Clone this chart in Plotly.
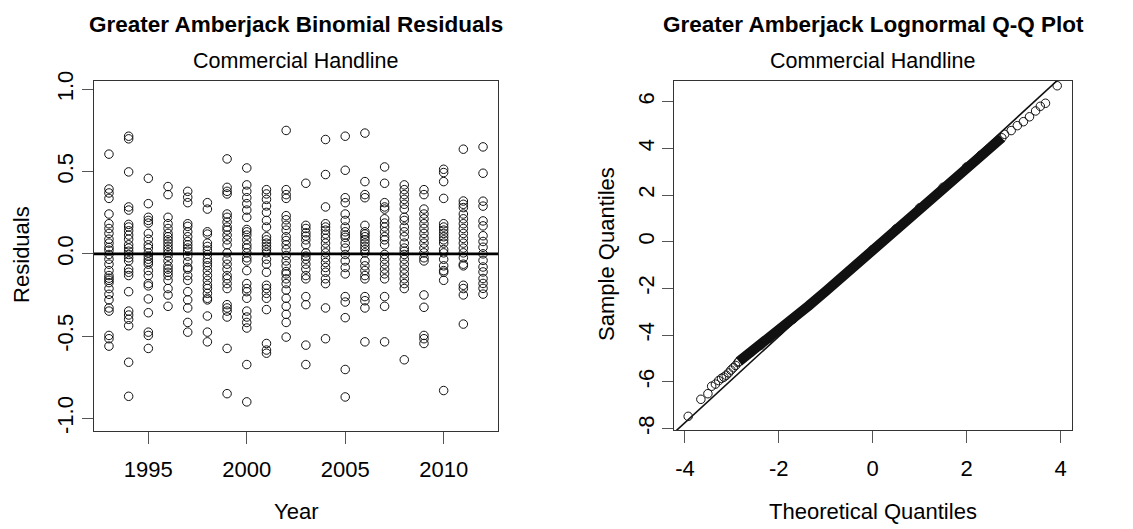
import plotly.graph_objects as go

# ---------------- Left panel data: binomial residuals by year ----------------
years = list(range(1993, 2013))

r1993 = [0.606, 0.394, 0.370, 0.337, 0.242, 0.183, 0.154, 0.124, 0.089, 0.065, 0.039, 0.022, -0.004, -0.033,
         -0.063, -0.102, -0.132, -0.148, -0.161, -0.175, -0.211, -0.246, -0.280, -0.329, -0.348, -0.496, -0.516, -0.561]
r1994 = [0.715, 0.699, 0.498, 0.285, 0.266, 0.179, 0.163, 0.140, 0.114, 0.089, 0.055, 0.035, 0.016, -0.004,
         -0.024, -0.043, -0.093, -0.112, -0.132, -0.230, -0.348, -0.372, -0.398, -0.437, -0.659, -0.866]
r1995 = [0.459, 0.305, 0.222, 0.203, 0.187, 0.124, 0.089, 0.055, 0.035, 0.006, -0.014, -0.033, -0.049, -0.063,
         -0.102, -0.132, -0.181, -0.195, -0.274, -0.358, -0.476, -0.496, -0.575]
r1996 = [0.409, 0.360, 0.222, 0.183, 0.154, 0.124, 0.104, 0.085, 0.065, 0.045, 0.026, 0.006, -0.014, -0.043,
         -0.073, -0.093, -0.112, -0.132, -0.161, -0.211, -0.250, -0.319]
r1997 = [0.380, 0.344, 0.311, 0.183, 0.167, 0.134, 0.104, 0.075, 0.055, 0.035, 0.016, -0.014, -0.049, -0.083,
         -0.093, -0.132, -0.161, -0.230, -0.280, -0.329, -0.417, -0.476]
r1998 = [0.311, 0.272, 0.134, 0.120, 0.065, 0.045, 0.022, -0.004, -0.033, -0.053, -0.073, -0.102, -0.132, -0.161,
         -0.191, -0.211, -0.240, -0.270, -0.280, -0.378, -0.476, -0.535]
r1999 = [0.577, 0.404, 0.380, 0.364, 0.242, 0.222, 0.193, 0.163, 0.144, 0.114, 0.085, 0.055, 0.006, -0.033,
         -0.063, -0.093, -0.132, -0.152, -0.181, -0.211, -0.309, -0.329, -0.348, -0.384, -0.575, -0.850]
r2000 = [0.522, 0.419, 0.380, 0.341, 0.305, 0.266, 0.222, 0.148, 0.134, 0.114, 0.085, 0.055, 0.035, 0.006,
         -0.024, -0.043, -0.102, -0.181, -0.211, -0.230, -0.270, -0.348, -0.384, -0.417, -0.451, -0.673, -0.900]
r2001 = [0.390, 0.364, 0.331, 0.291, 0.252, 0.203, 0.163, 0.104, 0.085, 0.065, 0.045, 0.026, 0.006, -0.033,
         -0.063, -0.112, -0.191, -0.211, -0.240, -0.270, -0.339, -0.545, -0.585, -0.604]
r2002 = [0.750, 0.390, 0.360, 0.337, 0.232, 0.207, 0.173, 0.144, 0.104, 0.081, 0.055, 0.026, -0.010, -0.043,
         -0.073, -0.108, -0.122, -0.152, -0.181, -0.220, -0.270, -0.319, -0.368, -0.417, -0.506]
r2003 = [0.429, 0.173, 0.154, 0.128, 0.108, 0.085, 0.055, 0.006, -0.014, -0.033, -0.063, -0.093, -0.132, -0.152,
         -0.260, -0.309, -0.555, -0.673]
r2004 = [0.695, 0.482, 0.285, 0.183, 0.163, 0.144, 0.120, 0.094, 0.065, 0.035, 0.006, -0.024, -0.053, -0.083,
         -0.112, -0.152, -0.181, -0.329, -0.516]
r2005 = [0.715, 0.508, 0.341, 0.311, 0.242, 0.203, 0.163, 0.134, 0.114, 0.100, 0.065, 0.035, -0.004, -0.043,
         -0.083, -0.122, -0.260, -0.293, -0.388, -0.703, -0.870]
r2006 = [0.734, 0.439, 0.360, 0.341, 0.173, 0.134, 0.120, 0.104, 0.085, 0.065, 0.045, 0.026, 0.006, -0.043,
         -0.073, -0.102, -0.132, -0.152, -0.260, -0.285, -0.329, -0.535]
r2007 = [0.528, 0.429, 0.311, 0.285, 0.272, 0.213, 0.187, 0.163, 0.134, 0.104, 0.085, 0.055, -0.004, -0.033,
         -0.063, -0.093, -0.122, -0.152, -0.260, -0.319, -0.535]
r2008 = [0.419, 0.390, 0.360, 0.331, 0.301, 0.272, 0.222, 0.203, 0.163, 0.134, 0.104, 0.065, 0.035, 0.016,
         -0.004, -0.033, -0.063, -0.093, -0.122, -0.152, -0.181, -0.211, -0.644]
r2009 = [0.390, 0.360, 0.272, 0.242, 0.213, 0.183, 0.154, 0.124, 0.094, 0.065, 0.035, 0.006, -0.024, -0.043,
         -0.250, -0.325, -0.496, -0.516, -0.545]
r2010 = [0.514, 0.494, 0.439, 0.337, 0.183, 0.163, 0.144, 0.124, 0.104, 0.085, 0.065, 0.026, 0.006, -0.033,
         -0.073, -0.102, -0.112, -0.161, -0.831]
r2011 = [0.636, 0.321, 0.301, 0.281, 0.242, 0.213, 0.183, 0.154, 0.124, 0.094, 0.065, 0.035, 0.006, -0.024,
         -0.063, -0.073, -0.191, -0.211, -0.250, -0.427]
r2012 = [0.650, 0.490, 0.320, 0.290, 0.200, 0.170, 0.110, 0.075, 0.040, 0.000, -0.040, -0.080, -0.110, -0.150,
         -0.180, -0.210, -0.245]

resid_by_year = [r1993, r1994, r1995, r1996, r1997, r1998, r1999, r2000, r2001, r2002,
                 r2003, r2004, r2005, r2006, r2007, r2008, r2009, r2010, r2011, r2012]

x_ticks_left = [1995, 2000, 2005, 2010]
y_ticks_left = [-1.0, -0.5, 0.0, 0.5, 1.0]
y_ticklabels_left = ["-1.0", "-0.5", "0.0", "0.5", "1.0"]

# ---------------- Right panel data: lognormal Q-Q ----------------
# dense band of overlapping points (theoretical, sample) read along the band
qq_band_theo = [-2.85, -2.6, -2.4, -2.2, -2.0, -1.7, -1.36, -1.0, -0.5, 0.0, 0.5, 1.0, 1.5, 2.0, 2.3, 2.55, 2.75]
qq_band_sample = [-5.13, -4.75, -4.45, -4.13, -3.82, -3.32, -2.74, -2.12, -1.24, -0.34, 0.55, 1.45, 2.33, 3.20,
                  3.70, 4.12, 4.45]
# individually visible tail points
qq_tail_theo = [-3.93, -3.66, -3.51, -3.43, -3.35, -3.28, -3.22, -3.17, -3.12, -3.07, -3.02, -2.97, -2.92, -2.87,
                2.81, 2.95, 3.08, 3.21, 3.34, 3.47, 3.57, 3.68, 3.93]
qq_tail_sample = [-7.48, -6.75, -6.51, -6.19, -6.10, -5.95, -5.85, -5.80, -5.72, -5.62, -5.50, -5.40, -5.30, -5.18,
                  4.60, 4.76, 4.97, 5.14, 5.35, 5.60, 5.80, 5.93, 6.68]
qqline_intercept = -0.36
qqline_slope = 1.848

x_ticks_right = [-4, -2, 0, 2, 4]
y_ticks_right = [-8, -6, -4, -2, 0, 2, 4, 6]

# ---------------- Figure ----------------
W, H = 1133, 529
FONT = "Liberation Sans, Arial, sans-serif"
INK = "#111111"


def px_x(p):
    return p / W


def px_y(p):
    return 1 - p / H


fig = go.Figure()

xs, ys = [], []
for yr, vals in zip(years, resid_by_year):
    xs += [yr] * len(vals)
    ys += vals

circle = dict(symbol="circle-open", size=8.5, color=INK, line=dict(width=1, color=INK))

fig.add_trace(go.Scatter(x=xs, y=ys, mode="markers", xaxis="x", yaxis="y", marker=circle,
                         showlegend=False, hoverinfo="skip"))

x_rng_left = [1992.24, 2012.76]
y_rng_left = [-1.077, 1.051]
fig.add_trace(go.Scatter(x=x_rng_left, y=[0, 0], mode="lines", xaxis="x", yaxis="y",
                         line=dict(color="black", width=2.6), showlegend=False, hoverinfo="skip"))

x_rng_right = [-4.226, 4.245]
y_rng_right = [-8.067, 6.886]

# Q-Q reference line (clipped to the plot area)
line_x = [x_rng_right[0] - 1, x_rng_right[1] + 1]
line_y = [qqline_intercept + qqline_slope * v for v in line_x]
fig.add_trace(go.Scatter(x=line_x, y=line_y, mode="lines", xaxis="x2", yaxis="y2",
                         line=dict(color=INK, width=1.6), showlegend=False, hoverinfo="skip"))

# Q-Q band of overlapping points
fig.add_trace(go.Scatter(x=qq_band_theo, y=qq_band_sample, mode="lines+markers", xaxis="x2", yaxis="y2",
                         line=dict(color=INK, width=10), marker=circle,
                         showlegend=False, hoverinfo="skip"))
fig.add_trace(go.Scatter(x=qq_tail_theo, y=qq_tail_sample, mode="markers", xaxis="x2", yaxis="y2",
                         marker=circle, showlegend=False, hoverinfo="skip"))

axis_common = dict(showgrid=False, zeroline=False, showline=True, mirror=True, linecolor="#333333",
                   linewidth=1, ticks="outside", tickwidth=1, tickcolor="#555555",
                   tickfont=dict(family=FONT, size=22, color="black"))

fig.update_layout(
    width=W, height=H, margin=dict(l=0, r=0, t=0, b=0),
    paper_bgcolor="white", plot_bgcolor="white",
    xaxis=dict(domain=[px_x(94), px_x(498)], range=x_rng_left, anchor="y",
               tickmode="array", tickvals=x_ticks_left, ticklen=12, ticklabelstandoff=7, **axis_common),
    yaxis=dict(domain=[px_y(433.3), px_y(73)], range=y_rng_left, anchor="x",
               tickmode="array", tickvals=y_ticks_left, ticktext=y_ticklabels_left, tickangle=-90,
               ticklen=11, ticklabelstandoff=0, **axis_common),
    xaxis2=dict(domain=[px_x(674.3), px_x(1072)], range=x_rng_right, anchor="y2",
                tickmode="array", tickvals=x_ticks_right, ticktext=[str(v) for v in x_ticks_right],
                ticklen=12, ticklabelstandoff=7, **axis_common),
    yaxis2=dict(domain=[px_y(432.3), px_y(73)], range=y_rng_right, anchor="x2",
                tickmode="array", tickvals=y_ticks_right, ticktext=[str(v) for v in y_ticks_right],
                tickangle=-90, ticklen=11, ticklabelstandoff=0, **axis_common),
)

ann = []
ann.append(dict(text="<b>Greater Amberjack Binomial Residuals</b>", x=px_x(296), y=px_y(15),
                font=dict(size=22.5, family=FONT, color="black")))
ann.append(dict(text="Commercial Handline", x=px_x(296), y=px_y(52),
                font=dict(size=21.5, family=FONT, color="black")))
ann.append(dict(text="<b>Greater Amberjack Lognormal Q-Q Plot</b>", x=px_x(873), y=px_y(15),
                font=dict(size=22.5, family=FONT, color="black")))
ann.append(dict(text="Commercial Handline", x=px_x(873), y=px_y(52),
                font=dict(size=21.5, family=FONT, color="black")))
ann.append(dict(text="Year", x=px_x(296), y=px_y(516), font=dict(size=22, family=FONT, color="black")))
ann.append(dict(text="Theoretical Quantiles", x=px_x(873), y=px_y(516),
                font=dict(size=22, family=FONT, color="black")))
ann.append(dict(text="Residuals", x=px_x(22), y=px_y(251), textangle=-90,
                font=dict(size=22, family=FONT, color="black")))
ann.append(dict(text="Sample Quantiles", x=px_x(607), y=px_y(251), textangle=-90,
                font=dict(size=22, family=FONT, color="black")))
for a in ann:
    a.update(xref="paper", yref="paper", showarrow=False, xanchor="center", yanchor="middle")
fig.update_layout(annotations=ann)

fig.write_html("out.html")
